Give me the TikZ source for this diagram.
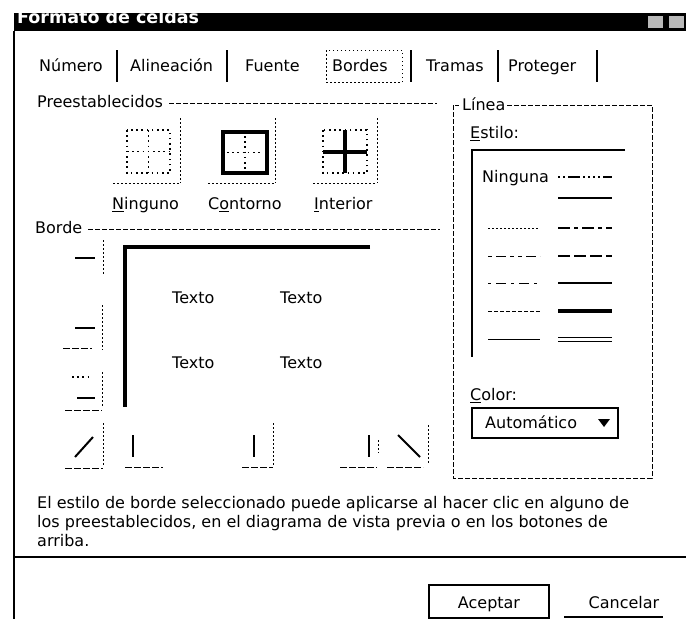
\documentclass[tikz,border=0pt]{standalone}
\usepackage{fontspec}
\setmainfont{DejaVu Sans}
\usetikzlibrary{positioning}
\begin{document}
\begin{tikzpicture}[x=1pt, y=-1pt,
    lbl/.style={
        inner sep=0,
        anchor=west,
        text height=12pt,
        text depth=0.4pt,
        font=\fontsize{16}{19}\selectfont
    },
    grpline/.style={
        dash pattern=on 5pt off 2pt,
        line width=0.8
    },
    btnedge/.style={
        dash pattern=on 1.5pt off 2.5pt,
        line width=1
    },
    btnfloor/.style={
        dash pattern=on 7pt off 2pt,
        line width=0.9
    },
    gridline/.style={
        dash pattern=on 1.6pt off 3.6pt,
        line width=1.4
    },
    thickline/.style={
        line width=3.2
    },
    tabsep/.style={
        line width=1.5
    }
]
    \useasboundingbox (0,0) rectangle (686,619);

    % barra de titulo
    \fill (14,13) rectangle (686,31);
    \begin{scope}
        \clip (14,13) rectangle (640,31);
        \node (title) [anchor=base west, inner sep=0, text=white, font=\bfseries\fontsize{17.5}{20}\selectfont] at (17,23.5) {Formato de celdas};
    \end{scope}
    \fill[gray!55] (648,16) rectangle (663,28);
    \fill[gray!55] (669,16) rectangle (684,28);
    \draw[line width=2] (14,31) -- (14,619);

    % pestanas
    \node (num) [lbl] at (39,66) {Número};
    \node (ali) [lbl] at (130,66) {Alineación};
    \node (fue) [lbl] at (245,66) {Fuente};
    \node (bor) [lbl] at (332,66) {Bordes};
    \node (tra) [lbl] at (426,66) {Tramas};
    \node (pro) [lbl] at (508,66) {Proteger};
    \foreach \x in {117, 227, 411, 498, 597}
        \draw[tabsep] (\x,50) -- (\x,82);
    \draw[btnedge] (326,50) rectangle (402,82);

    % Preestablecidos
    \node (pre) [lbl] at (37,102) {Preestablecidos};
    \draw[grpline] (pre.east) ++(6,1) -- (437,103);

    % Ninguno
    \draw[gridline] (127,130) rectangle (170,173);
    \draw[gridline] (148.5,130) -- (148.5,173) (127,151.5) -- (170,151.5);
    % Contorno
    \draw[thickline] (223,132) rectangle (267,173);
    \draw[gridline] (245,136) -- (245,169) (227,152.5) -- (263,152.5);
    % Interior
    \draw[gridline] (323,130) rectangle (367,173);
    \draw[thickline] (345,130) -- (345,173) (323,152) -- (367,152);
    \foreach \x/\l in {180/113, 275/208, 377/313} {
        \draw[btnedge] (\x,118) -- (\x,183);
        \draw[btnedge] (\l,183) -- (\x,183);
    }
    \node (nin) [lbl] at (112,204) {\underline{N}inguno};
    \node (con) [lbl] at (208,204) {C\underline{o}ntorno};
    \node (int) [lbl] at (314,204) {\underline{I}nterior};

    % Borde
    \node (bde) [lbl] at (35,228) {Borde};
    \draw[grpline] (bde.east) ++(6,1) -- (440,229);

    % vista previa
    \draw[thickline] (370,247) -- (125,247) -- (125,407);
    \node (t1) [lbl] at (172,298) {Texto};
    \node (t2) [lbl] at (280,298) {Texto};
    \node (t3) [lbl] at (172,363) {Texto};
    \node (t4) [lbl] at (280,363) {Texto};

    % botones de la izquierda
    \draw[line width=2] (75,258) -- (95,258);
    \draw[btnedge] (103,240) -- (103,275);
    \draw[line width=2] (75,328) -- (95,328);
    \draw[btnfloor] (63,348) -- (92,348);
    \draw[btnedge] (102,305) -- (102,350);
    \draw[gridline] (72,377) -- (92,377);
    \draw[line width=2] (77,398) -- (95,398);
    \draw[btnfloor] (65,410) -- (102,410);
    \draw[btnedge] (102,372) -- (102,408);

    % botones de abajo
    \draw[line width=2] (75,457) -- (93,437);
    \draw[btnedge] (103,423) -- (103,465);
    \draw[btnfloor] (65,468) -- (103,468);
    \draw[line width=2] (133,435) -- (133,457);
    \draw[btnfloor] (125,467) -- (163,467);
    \draw[line width=2] (254,435) -- (254,457);
    \draw[btnedge] (273,423) -- (273,465);
    \draw[btnfloor] (242,467) -- (273,467);
    \draw[line width=2] (369,435) -- (369,457);
    \draw[btnedge] (378,440) -- (378,453);
    \draw[btnfloor] (340,467) -- (377,467);
    \draw[line width=2] (398,435) -- (420,457);
    \draw[btnedge] (428,425) -- (428,465);
    \draw[btnfloor] (387,467) -- (423,467);

    % Linea
    \draw[grpline] (507,105) -- (652,105) -- (652,478) -- (453,478) -- (453,105) -- (459,105);
    \node (lin) [lbl] at (462,105) {Línea};
    \node (est) [lbl] at (470,133) {\underline{E}stilo:};
    \draw[line width=1.6] (625,150) -- (472,150) -- (472,357);
    \node (nga) [lbl] at (482,177) {Ninguna};
    % muestras de linea
    \draw[line width=2, dash pattern=on 2pt off 3pt on 2pt off 3pt on 12pt off 3pt on 2pt off 3pt on 2pt off 3pt] (558,177) -- (612,177);
    \draw[line width=1.8] (558,198) -- (612,198);
    \draw[line width=2, dash pattern=on 12pt off 4pt on 4pt off 4pt] (558,228) -- (612,228);
    \draw[line width=2, dash pattern=on 12pt off 4pt] (558,256) -- (612,256);
    \draw[line width=1.6] (558,283) -- (612,283);
    \draw[line width=3.2] (558,311) -- (612,311);
    \draw[line width=0.9] (558,337.5) -- (612,337.5) (558,341) -- (612,341);
    \draw[line width=0.8, dash pattern=on 1.5pt off 2.5pt] (488,228) -- (540,228);
    \draw[line width=0.8, dash pattern=on 4pt off 4pt on 10pt off 4pt on 4pt off 4pt] (488,256) -- (540,256);
    \draw[line width=0.8, dash pattern=on 3pt off 5pt on 10pt off 5pt] (488,283) -- (540,283);
    \draw[line width=0.8, dash pattern=on 4pt off 2pt] (488,311) -- (540,311);
    \draw[line width=0.8] (488,339) -- (540,339);

    % Color
    \node (col) [lbl] at (470,395) {\underline{C}olor:};
    \draw[line width=1.2] (472,408) rectangle (618,438);
    \node (aut) [lbl] at (485,423) {Automático};
    \fill (598,419) -- (610,419) -- (604,427) -- cycle;

    % texto de ayuda
    \node (ayu1) [lbl] at (37,503) {El estilo de borde seleccionado puede aplicarse al hacer clic en alguno de};
    \node (ayu2) [lbl] at (37,522) {los preestablecidos, en el diagrama de vista previa o en los botones de};
    \node (ayu3) [lbl] at (37,541) {arriba.};
    \draw[line width=1.8] (14,557) -- (686,557);

    % botones
    \draw[line width=1.5] (429,585) rectangle (549,618);
    \node (acep) [lbl, anchor=center] at (489,603) {Aceptar};
    \node (canc) [lbl, anchor=center] at (624,603) {Cancelar};
    \draw[line width=1.5] (564,617) -- (663,617);
\end{tikzpicture}
\end{document}
